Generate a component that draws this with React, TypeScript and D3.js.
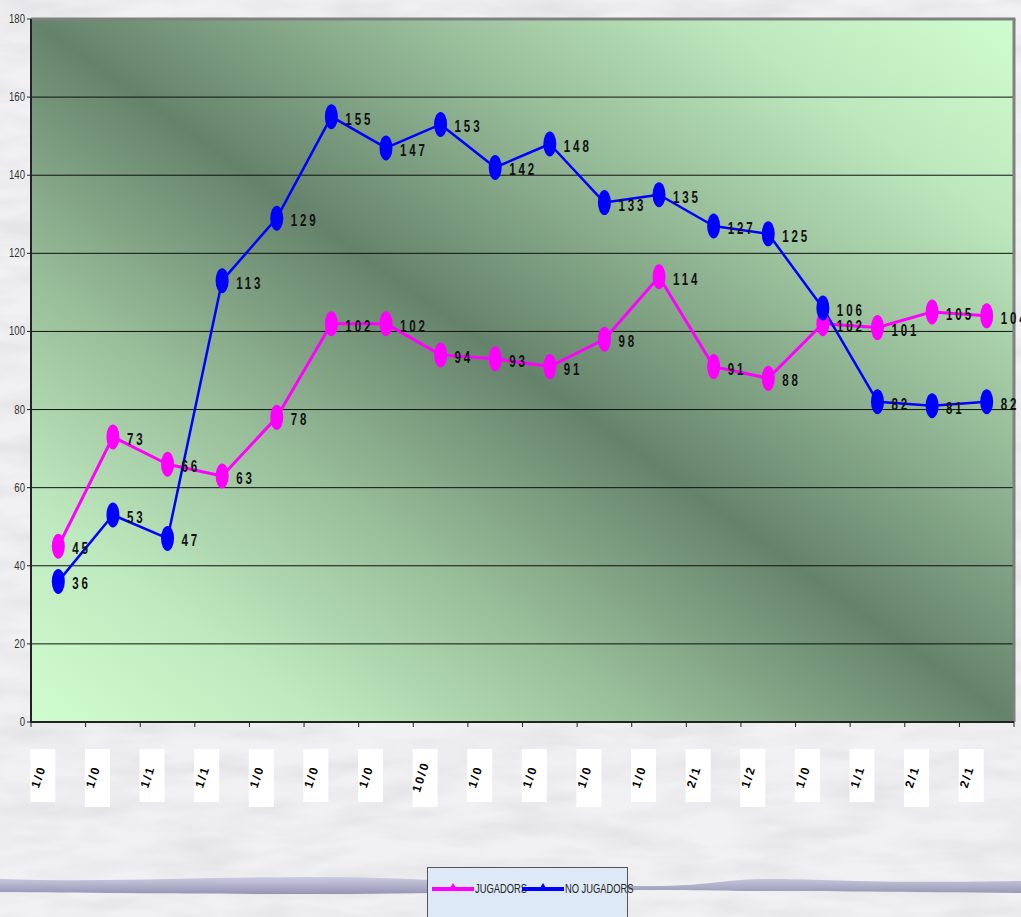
import React, { useEffect } from 'react';
import * as d3 from 'd3';

// values
const categories = ['1/0', '1/0', '1/1', '1/1', '1/0', '1/0', '1/0', '10/0', '1/0', '1/0', '1/0', '1/0', '2/1', '1/2', '1/0', '1/1', '2/1', '2/1'];
const jugadors = [45, 73, 66, 63, 78, 102, 102, 94, 93, 91, 98, 114, 91, 88, 102, 101, 105, 104];
const noJugadors = [36, 53, 47, 113, 129, 155, 147, 153, 142, 148, 133, 135, 127, 125, 106, 82, 81, 82];
const yTicks = [0, 20, 40, 60, 80, 100, 120, 140, 160, 180];

const series = [
    { name: 'JUGADORS', values: jugadors, color: '#ff00ff', width: 3 },
    { name: 'NO JUGADORS', values: noJugadors, color: '#0000ff', width: 2.5 },
];

const W = 1021;
const H = 917;
const plot = { left: 31, right: 1014, top: 19, bottom: 722 };

const labelFont = '"Liberation Sans Narrow", "Liberation Sans", Arial, sans-serif';

const App: React.FC = () => {
    useEffect(() => {
        document.body.style.margin = '0';
    }, []);

    const x = d3.scaleBand<number>()
        .domain(categories.map((_, i) => i))
        .range([plot.left, plot.right]);

    const y = d3.scaleLinear()
        .domain([0, 180])
        .range([plot.bottom, plot.top]);

    const cx = (i: number) => (x(i) as number) + x.bandwidth() / 2;

    const line = d3.line<number>()
        .x((_, i) => cx(i))
        .y(d => y(d));

    // decorative wave behind the legend
    const waveTop = 'M0,879 C120,883 220,876 330,877 C430,878 500,885 640,886 C700,887 720,880 760,879 C820,878 860,884 1021,881';
    const waveBottom = 'L1021,893 C900,892 820,891 760,891 C720,891 700,890 640,890 C520,891 420,894 330,894 C200,894 100,893 0,892 Z';

    return (
        <svg width={W} height={H} style={{ position: 'absolute', left: 0, top: 0, display: 'block' }}>
            <defs>
                <filter id="marble" x="0" y="0" width="100%" height="100%">
                    <feTurbulence type="fractalNoise" baseFrequency="0.012 0.05" numOctaves={3} seed={4} />
                    <feColorMatrix type="matrix" values="0 0 0 0 0.45  0 0 0 0 0.45  0 0 0 0 0.47  0 0 0 -1.4 0.9" />
                </filter>
                <linearGradient id="plotBg" x1="0" y1="1" x2="1" y2="0">
                    <stop offset="0%" stopColor="#d0fdd0" />
                    <stop offset="15%" stopColor="#bfeabf" />
                    <stop offset="32%" stopColor="#98bd99" />
                    <stop offset="50%" stopColor="#65836b" />
                    <stop offset="68%" stopColor="#94b996" />
                    <stop offset="85%" stopColor="#bde8bd" />
                    <stop offset="100%" stopColor="#d0fdd0" />
                </linearGradient>
                <linearGradient id="wave" x1="0" y1="0" x2="0" y2="1">
                    <stop offset="0%" stopColor="#c8c8e0" />
                    <stop offset="100%" stopColor="#8c8cac" />
                </linearGradient>
            </defs>

            {/* page background */}
            <rect x={0} y={0} width={W} height={H} fill="#f1f1f3" />
            <rect x={0} y={0} width={W} height={H} filter="url(#marble)" opacity={0.3} />

            {/* plot area */}
            <rect x={plot.left} y={plot.top} width={plot.right - plot.left} height={plot.bottom - plot.top} fill="url(#plotBg)" />

            {/* grid lines */}
            {yTicks.filter(t => t > 0 && t < 180).map(t => (
                <line key={t} x1={plot.left} x2={plot.right} y1={y(t)} y2={y(t)} stroke="#111" strokeWidth={1} />
            ))}

            {/* top and right border */}
            <line x1={plot.left} x2={plot.right + 1.5} y1={plot.top} y2={plot.top} stroke="#808080" strokeWidth={3} />
            <line x1={plot.right} x2={plot.right} y1={plot.top} y2={plot.bottom} stroke="#808080" strokeWidth={3} />

            {/* axes */}
            <line x1={plot.left} x2={plot.left} y1={plot.top} y2={plot.bottom + 1} stroke="#222" strokeWidth={2} />
            <line x1={plot.left} x2={plot.right} y1={plot.bottom} y2={plot.bottom} stroke="#222" strokeWidth={2} />
            {yTicks.map(t => (
                <g key={t}>
                    <line x1={plot.left - 4} x2={plot.left} y1={y(t)} y2={y(t)} stroke="#222" strokeWidth={1} />
                    <text transform={`translate(${plot.left - 6},${y(t) + 4}) scale(0.8,1)`} textAnchor="end"
                          fontFamily={labelFont} fontSize={12} fill="#333">{t}</text>
                </g>
            ))}
            {categories.map((_, i) => (
                <line key={i} x1={x(i) as number} x2={x(i) as number} y1={plot.bottom} y2={plot.bottom + 5}
                      stroke="#222" strokeWidth={1} />
            ))}
            <line x1={plot.right} x2={plot.right} y1={plot.bottom} y2={plot.bottom + 5} stroke="#222" strokeWidth={1} />

            {/* category labels: small white boxes with rotated text */}
            {categories.map((c, i) => {
                const bx = cx(i) - 16;
                return (
                    <g key={'c' + i}>
                        <rect x={bx - 12} y={749} width={25} height={i % 3 === 1 ? 58 : 53} fill="#ffffff" />
                        <text x={bx} y={778} textAnchor="middle" fontFamily={labelFont} fontWeight="bold"
                              fontSize={12} letterSpacing={2} fill="#000"
                              transform={`rotate(-72 ${bx} 778)`}>{c}</text>
                    </g>
                );
            })}

            {/* lines */}
            {series.map(s => (
                <path key={s.name} d={line(s.values) || ''} fill="none" stroke={s.color}
                      strokeWidth={s.width} strokeLinejoin="round" />
            ))}
            {series.map(s => (
                <g key={s.name + 'm'}>
                    {s.values.map((v, i) => (
                        <ellipse key={i} cx={cx(i)} cy={y(v)} rx={6.5} ry={12.5} fill={s.color} />
                    ))}
                </g>
            ))}

            {/* value labels */}
            {series.map(s => (
                <g key={s.name + 'l'}>
                    {s.values.map((v, i) => (
                        <text key={i} transform={`translate(${cx(i) + 14},${y(v) + 8}) scale(0.72,1)`}
                              fontFamily={labelFont} fontWeight="bold"
                              fontSize={16} letterSpacing={4} fill="#111">{v}</text>
                    ))}
                </g>
            ))}

            {/* wave + legend */}
            <path d={waveTop + ' ' + waveBottom} fill="url(#wave)" opacity={0.9} />
            <rect x={427.5} y={867.5} width={200} height={60} fill="#dde9f6" stroke="#555" strokeWidth={1} />
            {series.map((s, k) => {
                const lx = k === 0 ? 432 : 522;
                return (
                    <g key={s.name + 'g'}>
                        <line x1={lx} x2={lx + 42} y1={889} y2={889} stroke={s.color} strokeWidth={4} />
                        <path d={`M${lx + 18},888 L${lx + 21},883 L${lx + 24},888 Z`} fill={s.color} />
                        <text transform={`translate(${lx + 43},893) scale(0.78,1)`} fontFamily={labelFont}
                              fontSize={12} fill="#222">{s.name}</text>
                    </g>
                );
            })}
        </svg>
    );
};

export default App;
